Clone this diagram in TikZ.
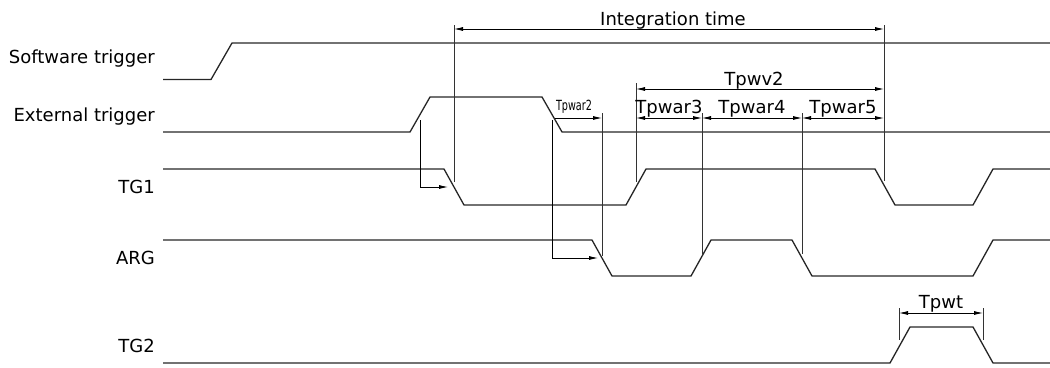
\documentclass[tikz,border=0pt]{standalone}
\usepackage{fontspec}
\setmainfont{DejaVu Sans}
\usetikzlibrary{arrows.meta}

\begin{document}
\begin{tikzpicture}[x=1pt, y=-1pt,
	signal/.style={line width=1.3pt, black!85},
	marker/.style={line width=0.8pt, black!80},
	dim/.style={line width=0.8pt, {Latex[length=9pt,width=4pt]}-{Latex[length=9pt,width=4pt]}},
	oneway/.style={line width=0.8pt, -{Latex[length=9pt,width=4pt]}},
	signame/.style={anchor=base east, inner sep=0pt},
	dimlabel/.style={anchor=base, inner sep=0pt, yshift=#1},
	every node/.style={font=\fontsize{18}{21}\selectfont, text=black}
	]
	\useasboundingbox (0,0) rectangle (1050,367);
	
	% Signal names
	\node[signame] (sw)  at (155,63)  {Software trigger};
	\node[signame] (ext) at (155,121) {External trigger};
	\node[signame] (tg1) at (155,193) {TG1};
	\node[signame] (arg) at (155,264) {ARG};
	\node[signame] (tg2) at (155,352) {TG2};
	
	% Software trigger
	\coordinate (sw0) at (163,79.5);
	\draw[signal] (sw0) -- (211,79.5) -- (232,43) -- (1050,43);
	
	% External trigger
	\coordinate (ext0) at (163,132);
	\draw[signal] (ext0) -- (410,132) -- (430,97) -- (542,97) -- (562,132) -- (1050,132);
	
	% TG1
	\coordinate (tg10) at (163,169);
	\draw[signal] (tg10) -- (444,169) -- (464,205) -- (626,205) -- (646,169)
	-- (875,169) -- (895,205) -- (973,205) -- (993,169) -- (1050,169);
	
	% ARG
	\coordinate (arg0) at (163,240);
	\draw[signal] (arg0) -- (592,240) -- (612,276) -- (691,276) -- (711,240)
	-- (792,240) -- (812,276) -- (973,276) -- (993,240) -- (1050,240);
	
	% TG2
	\coordinate (tg20) at (163,363);
	\draw[signal] (tg20) -- (890,363) -- (910,327) -- (973,327) -- (993,363) -- (1050,363);
	
	% Integration time
	\coordinate (itL) at (454,29);
	\coordinate (itR) at (884,29);
	\draw[marker] (454,25) -- (454,182);
	\draw[marker] (884,25) -- (884,181);
	\draw[dim] (itL) -- node[dimlabel=4pt, xshift=4pt] {Integration time} (itR);
	
	% Tpwv2
	\coordinate (wvL) at (636,89);
	\coordinate (wvR) at (884,89);
	\draw[marker] (636,83) -- (636,182);
	\draw[dim] (wvL) -- node[dimlabel=4pt, xshift=-6pt] {Tpwv2} (wvR);
	
	% Tpwar row
	\coordinate (war2s) at (555,118);
	\coordinate (war2e) at (602,118);
	\coordinate (war3e) at (702,118);
	\coordinate (war4e) at (802,118);
	\coordinate (war5s) at (636,118);
	\coordinate (war5e) at (884,118);
	\draw[marker] (602,113) -- (602,256);
	\draw[marker] (702,113) -- (702,254);
	\draw[marker] (802,113) -- (802,254);
	\draw[oneway] (war2s) -- (war2e);
	\node[anchor=base, inner sep=0pt, font=\fontsize{14}{16}\selectfont, xscale=0.69] (war2) at (574,110) {Tpwar2};
	\draw[dim] (war5s) -- node[dimlabel=5pt] {Tpwar3} (war3e);
	\draw[dim] (war3e) -- node[dimlabel=5pt] {Tpwar4} (war4e);
	\draw[dim] (war4e) -- node[dimlabel=5pt] {Tpwar5} (war5e);
	
	% Trigger edge to TG1 / ARG
	\coordinate (upA) at (448,187);
	\coordinate (dnA) at (598,258);
	\draw[oneway] (420,120) -- (420,187) -- (upA);
	\draw[oneway] (552,120) -- (552,258) -- (dnA);
	
	% Tpwt
	\coordinate (wtL) at (899,313);
	\coordinate (wtR) at (983,313);
	\draw[marker] (899,308) -- (899,340);
	\draw[marker] (983,308) -- (983,340);
	\draw[dim] (wtL) -- node[dimlabel=5pt] {Tpwt} (wtR);
	
\end{tikzpicture}
\end{document}
